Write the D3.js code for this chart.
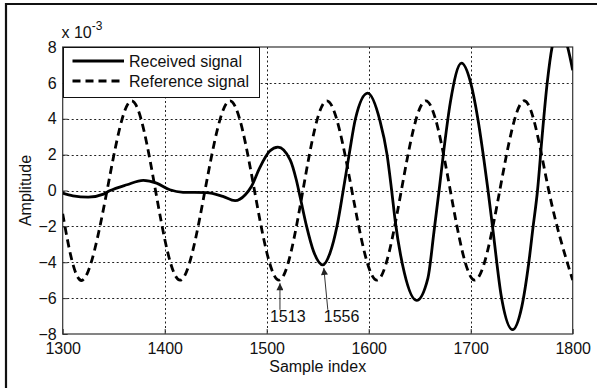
<!DOCTYPE html>
<html>
<head>
<meta charset="utf-8">
<script src="https://cdn.jsdelivr.net/npm/d3@7"></script>
<style>
  body { margin: 0; background: #fff; }
  svg { display: block; font-family: "Liberation Sans", Arial, sans-serif; }
</style>
</head>
<body>
<div id="chart"></div>
<script>
// data (amplitude in units of 1e-3)
let refIndex = [1300, 1319.5, 1343.5, 1367.5, 1391, 1415, 1439.5, 1464, 1488, 1512, 1535.5,
  1559, 1583.5, 1608, 1632, 1656, 1680, 1704, 1728.5, 1753, 1776.5, 1800]
let refValue = [-1.3, -5, 0, 5, 0, -5, 0, 5, 0, -5, 0,
  5, 0, -5, 0, 5, 0, -5, 0, 5, 0, -5]

let recIndex = [1300, 1310, 1325, 1340, 1346, 1363, 1379, 1392, 1405, 1418, 1441, 1457, 1469,
  1479, 1485, 1493, 1503, 1511, 1523, 1529, 1533, 1539, 1546, 1555, 1562, 1569, 1575, 1581,
  1587, 1599, 1611, 1618, 1622.5, 1626, 1635, 1647, 1658, 1664, 1669, 1674, 1680, 1691, 1700,
  1707, 1713, 1717, 1722, 1730, 1741, 1750, 1757, 1761, 1765.5, 1770, 1775, 1781, 1788, 1795, 1800]
let recValue = [-0.15, -0.3, -0.37, -0.2, -0.02, 0.32, 0.56, 0.41, 0.04, -0.1, -0.12, -0.33, -0.57,
  -0.24, 0.22, 1.25, 2.2, 2.42, 1.71, 0.6, -0.42, -1.97, -3.4, -4.15, -3.5, -1.97, 0, 2.06,
  4.0, 5.43, 3.9, 2.0, 0, -1.7, -4.6, -6.13, -4.9, -2.3, 0, 2.4, 4.9, 7.1, 6.0,
  4.0, 1.7, 0, -2.3, -5.9, -7.76, -6.5, -4.0, -2.1, 0, 3.0, 6.0, 8.3, 9.0, 8.0, 6.7]

let xTicks = [1300, 1400, 1500, 1600, 1700, 1800]
let yTicks = [-8, -6, -4, -2, 0, 2, 4, 6, 8]

let annoIndex = [1513, 1556]
let annoValue = [-5, -4.15]
let annoText = ['1513', '1556']

let seriesNames = ['Received signal', 'Reference signal']

let W = 597, H = 388
let plot = {left: 62.7, right: 572.7, top: 47, bottom: 334}

let svg = d3.select('div#chart')
  .append('svg')
    .attr('width', W)
    .attr('height', H)

// outer frame (only top and left edges show)
svg.append('path')
  .attr('d', `M 6,${H} L 6,4 L ${W},4`)
  .attr('fill', 'none')
  .attr('stroke', '#111')
  .attr('stroke-width', 2.2)

let x = d3.scaleLinear().domain([1300, 1800]).range([plot.left, plot.right])
let y = d3.scaleLinear().domain([-8, 8]).range([plot.bottom, plot.top])

svg.append('defs').append('clipPath')
    .attr('id', 'clip')
  .append('rect')
    .attr('x', plot.left)
    .attr('y', plot.top)
    .attr('width', plot.right - plot.left)
    .attr('height', plot.bottom - plot.top)

// grid
let grid = svg.append('g')
  .attr('stroke', '#222')
  .attr('stroke-width', 1)
  .attr('stroke-dasharray', '2,2.5')

grid.selectAll('line.v')
  .data(xTicks.slice(1, -1))
  .enter().append('line')
  .attr('x1', d => Math.round(x(d)) + 0.5)
  .attr('x2', d => Math.round(x(d)) + 0.5)
  .attr('y1', plot.top)
  .attr('y2', plot.bottom)

grid.selectAll('line.h')
  .data(yTicks.slice(1, -1))
  .enter().append('line')
  .attr('x1', plot.left)
  .attr('x2', plot.right)
  .attr('y1', d => Math.round(y(d)) + 0.5)
  .attr('y2', d => Math.round(y(d)) + 0.5)

// axes
let xAxis = svg.append('g')
  .attr('transform', `translate(0, ${plot.bottom})`)
  .call(d3.axisBottom(x).tickValues(xTicks).tickSize(-5).tickPadding(9).tickFormat(d3.format('d')))
let yAxis = svg.append('g')
  .attr('transform', `translate(${plot.left}, 0)`)
  .call(d3.axisLeft(y).tickValues(yTicks).tickSize(-5).tickPadding(6))

for (let ax of [xAxis, yAxis]) {
  ax.select('.domain').remove()
  ax.selectAll('line').attr('stroke', '#333')
  ax.selectAll('text')
    .attr('font-size', 16)
    .attr('fill', '#111')
}

// box
svg.append('rect')
  .attr('x', plot.left)
  .attr('y', plot.top)
  .attr('width', plot.right - plot.left)
  .attr('height', plot.bottom - plot.top)
  .attr('fill', 'none')
  .attr('stroke', '#333')
  .attr('stroke-width', 1.2)

// lines
let lines = svg.append('g').attr('clip-path', 'url(#clip)')

let refLine = d3.line()
  .x((d, i) => x(refIndex[i]))
  .y(d => y(d))
  .curve(d3.curveNatural)

let recLine = d3.line()
  .x((d, i) => x(recIndex[i]))
  .y(d => y(d))
  .curve(d3.curveMonotoneX)

lines.append('path')
  .attr('d', refLine(refValue))
  .attr('fill', 'none')
  .attr('stroke', '#000')
  .attr('stroke-width', 2.8)
  .attr('stroke-dasharray', '8,5')

lines.append('path')
  .attr('d', recLine(recValue))
  .attr('fill', 'none')
  .attr('stroke', '#000')
  .attr('stroke-width', 2.8)

// annotations
svg.append('defs').append('marker')
    .attr('id', 'arrow')
    .attr('viewBox', '0 0 10 10')
    .attr('refX', 10)
    .attr('refY', 5)
    .attr('markerWidth', 10)
    .attr('markerHeight', 7)
    .attr('markerUnits', 'userSpaceOnUse')
    .attr('orient', 'auto')
  .append('path')
    .attr('d', 'M 0,0 L 10,5 L 0,10 z')
    .attr('fill', '#222')

let tailDx = [0, 4]
let textDx = [-10, 0]
annoIndex.forEach((d, i) => {
  svg.append('line')
    .attr('x1', x(d) + tailDx[i])
    .attr('y1', y(-6.65))
    .attr('x2', x(d))
    .attr('y2', y(annoValue[i]) + 3)
    .attr('stroke', '#333')
    .attr('stroke-width', 1)
    .attr('marker-end', 'url(#arrow)')
  svg.append('text')
    .attr('x', x(d) + textDx[i])
    .attr('y', 322)
    .attr('font-size', 16)
    .attr('fill', '#111')
    .text(annoText[i])
})

// legend
let legend = svg.append('g')
legend.append('rect')
  .attr('x', 63.5)
  .attr('y', 47.5)
  .attr('width', 196)
  .attr('height', 50)
  .attr('fill', '#fff')
  .attr('stroke', '#111')
  .attr('stroke-width', 1)

seriesNames.forEach((name, i) => {
  let ly = 61 + i * 20
  legend.append('line')
    .attr('x1', 72.5)
    .attr('x2', 124)
    .attr('y1', ly)
    .attr('y2', ly)
    .attr('stroke', '#000')
    .attr('stroke-width', 2.8)
    .attr('stroke-dasharray', i === 1 ? '8,5' : null)
  legend.append('text')
    .attr('x', 129)
    .attr('y', ly + 6)
    .attr('font-size', 16)
    .attr('fill', '#111')
    .text(name)
})

// axis labels and multiplier
svg.append('text')
  .attr('x', (plot.left + plot.right) / 2)
  .attr('y', 372)
  .attr('text-anchor', 'middle')
  .attr('font-size', 16)
  .attr('fill', '#111')
  .text('Sample index')

svg.append('text')
  .attr('transform', `translate(31, ${(plot.top + plot.bottom) / 2}) rotate(-90)`)
  .attr('text-anchor', 'middle')
  .attr('font-size', 16)
  .attr('fill', '#111')
  .text('Amplitude')

let mult = svg.append('text')
  .attr('x', 61.5)
  .attr('y', 38)
  .attr('font-size', 16)
  .attr('fill', '#111')
mult.append('tspan').text('x 10')
mult.append('tspan')
  .attr('dy', -8)
  .attr('font-size', 12)
  .text('-3')
</script>
</body>
</html>
